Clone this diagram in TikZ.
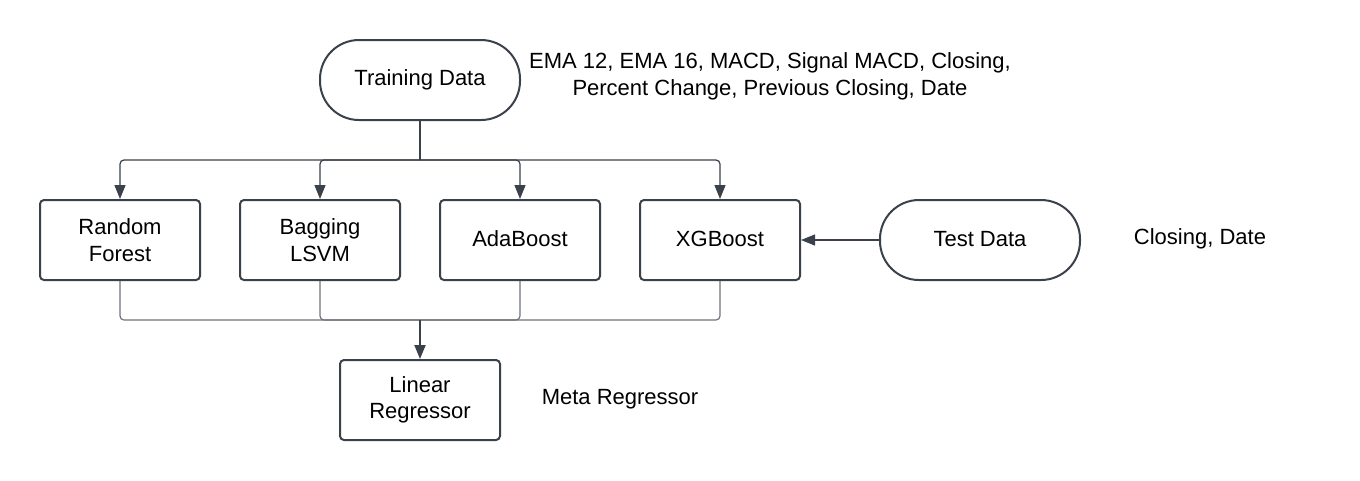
\documentclass[tikz,border=0pt]{standalone}
\usepackage{fontspec}
\setmainfont{Liberation Sans}
\usetikzlibrary{arrows.meta}
\definecolor{boxc}{HTML}{3A414A}
\definecolor{connc}{HTML}{6E747C}
\begin{document}
\begin{tikzpicture}[x=1pt,y=-1pt,
  txt/.style={font=\fontsize{22}{26.5}\selectfont, align=center, text=black},
  boxnode/.style={txt, draw=boxc, line width=2pt, rounded corners=4pt, minimum width=160pt, minimum height=80pt, inner sep=0pt},
  pill/.style={txt, draw=boxc, line width=2pt, rounded corners=39pt, minimum width=200pt, minimum height=80pt, inner sep=0pt},
  conn/.style={draw=connc, line width=1.2pt, rounded corners=4pt},
  darkconn/.style={draw=boxc, line width=2pt, rounded corners=4pt},
  tip/.style={-{Triangle[length=14pt,width=11pt]}, boxc}
]
\useasboundingbox[fill=white] (0,0) rectangle (1360,480);
\node[pill] (train) at (420,80) {Training Data};
\node[pill] (test) at (980,240) {\raisebox{1.5pt}{Test Data}};
\node[boxnode] (rf) at (120,240) {Random\\Forest};
\node[boxnode] (bag) at (320,240) {Bagging\\LSVM};
\node[boxnode] (ada) at (520,240) {\raisebox{2.5pt}{AdaBoost}};
\node[boxnode] (xgb) at (720,240) {\raisebox{2.5pt}{XGBoost}};
\node[boxnode] (lin) at (420,400) {Linear\\Regressor};
\node[txt, font=\fontsize{22}{27}\selectfont] (feat) at (770,76) {EMA 12, EMA 16, MACD, Signal MACD, Closing,\\Percent Change, Previous Closing, Date};
\node[txt] (testfeat) at (1200,239) {Closing, Date};
\node[txt] (meta) at (620,399) {Meta Regressor};
\coordinate (split) at (420,160);
\coordinate (join) at (420,320);
% top split
\draw[darkconn] (train.south) -- (split);
\foreach \n in {rf,bag,ada,xgb}{
  \draw[conn, tip] (split) -| (\n.north);
}
% bottom join
\foreach \n in {rf,bag,ada,xgb}{
  \draw[conn] (\n.south) |- (join);
}
\draw[darkconn, tip] (join) -- (lin.north);
% test data
\draw[conn, tip] (test.west) -- (xgb.east);
\end{tikzpicture}
\end{document}
